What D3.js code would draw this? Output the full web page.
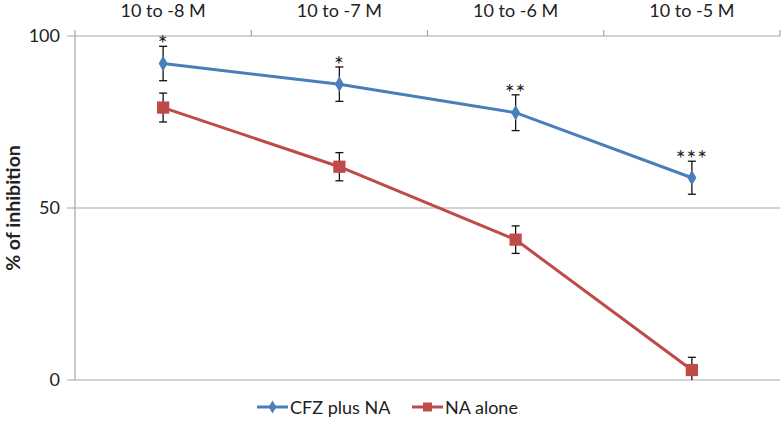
<!DOCTYPE html>
<html>
<head>
<meta charset="utf-8">
<script src="https://cdn.jsdelivr.net/npm/d3@7"></script>
<style>
  body { margin: 0; background: #fff; }
  svg { font-family: Lato, "Open Sans", sans-serif; }
</style>
</head>
<body>
<svg width="784" height="432"></svg>
<script>
// datos
const categorias = ["10 to -8 M", "10 to -7 M", "10 to -6 M", "10 to -5 M"];
const cfzValores = [92, 86, 77.7, 58.8];
const cfzError = [5, 5, 5.2, 4.8];
const naValores = [79.2, 62, 40.8, 2.9];
const naError = [4.2, 4.1, 4, 3.7];
const estrellas = ["*", "*", "**", "***"];
const ticksY = [0, 50, 100];

const series = [
  { nombre: "CFZ plus NA", valores: cfzValores, error: cfzError, color: "#4A7EBB", marca: "diamante" },
  { nombre: "NA alone", valores: naValores, error: naError, color: "#BE4B48", marca: "cuadrado" }
];

const svg = d3.select("svg");
const margen = { izq: 75, der: 780, arriba: 36, abajo: 380 };

const x = d3.scaleBand().domain(categorias).range([margen.izq, margen.der]);
const y = d3.scaleLinear().domain([0, 100]).range([margen.abajo, margen.arriba]);
const cx = d => x(d) + x.bandwidth() / 2;

// lineas de la cuadricula
svg.selectAll(".grid")
  .data(ticksY)
  .enter()
  .append("line")
  .attr("x1", margen.izq - 8)
  .attr("x2", margen.der)
  .attr("y1", d => y(d))
  .attr("y2", d => y(d))
  .attr("stroke", "#a6a6a6")
  .attr("stroke-width", 1.2);

// eje vertical
svg.append("line")
  .attr("x1", margen.izq).attr("x2", margen.izq)
  .attr("y1", y(100)).attr("y2", y(0))
  .attr("stroke", "#a6a6a6").attr("stroke-width", 1.2);

// marcas del eje superior
const bordes = categorias.map(c => x(c)).concat([margen.der]);
svg.selectAll(".tickX")
  .data(bordes)
  .enter()
  .append("line")
  .attr("x1", d => d).attr("x2", d => d)
  .attr("y1", y(100)).attr("y2", y(100) - 6)
  .attr("stroke", "#a6a6a6").attr("stroke-width", 1.2);

// etiquetas de categorias
svg.selectAll(".cat")
  .data(categorias)
  .enter()
  .append("text")
  .attr("x", d => cx(d))
  .attr("y", 17)
  .attr("text-anchor", "middle")
  .attr("font-size", 18)
  .attr("fill", "#222")
  .text(d => d);

// etiquetas del eje y
svg.selectAll(".tickY")
  .data(ticksY)
  .enter()
  .append("text")
  .attr("x", 60)
  .attr("y", d => y(d) + 6)
  .attr("text-anchor", "end")
  .attr("font-size", 18)
  .attr("fill", "#222")
  .text(d => d);

svg.append("text")
  .attr("transform", `translate(20,${(y(0) + y(100)) / 2}) rotate(-90)`)
  .attr("text-anchor", "middle")
  .attr("font-size", 19.5)
  .attr("font-weight", "bold")
  .attr("fill", "#222")
  .text("% of inhibition");

// lineas y marcas de cada serie
const linea = d3.line()
  .x((d, i) => cx(categorias[i]))
  .y(d => y(d));

const simbolo = s => s.marca === "diamante"
  ? d3.symbol().type(d3.symbolDiamond).size(70)()
  : d3.symbol().type(d3.symbolSquare).size(150)();

series.forEach(s => {
  svg.append("path")
    .attr("d", linea(s.valores))
    .attr("fill", "none")
    .attr("stroke", s.color)
    .attr("stroke-width", 3);

  // barras de error
  const g = svg.append("g");
  s.valores.forEach((v, i) => {
    const px = cx(categorias[i]);
    const alto = Math.min(100, v + s.error[i]);
    const bajo = Math.max(0, v - s.error[i]);
    g.append("line")
      .attr("x1", px).attr("x2", px)
      .attr("y1", y(alto)).attr("y2", y(bajo))
      .attr("stroke", "#111").attr("stroke-width", 1.3);
    [alto, bajo].forEach(t => {
      if (t === 0) return;
      g.append("line")
        .attr("x1", px - 4).attr("x2", px + 4)
        .attr("y1", y(t)).attr("y2", y(t))
        .attr("stroke", "#111").attr("stroke-width", 1.3);
    });
  });

  svg.selectAll(null)
    .data(s.valores)
    .enter()
    .append("path")
    .attr("transform", (d, i) => `translate(${cx(categorias[i])},${y(d)})`)
    .attr("d", simbolo(s))
    .attr("fill", s.color);
});

// asteriscos de significancia
svg.selectAll(".estrella")
  .data(estrellas)
  .enter()
  .append("text")
  .attr("x", (d, i) => cx(categorias[i]))
  .attr("y", (d, i) => y(cfzValores[i] + cfzError[i]) + 6)
  .attr("text-anchor", "middle")
  .attr("font-size", 23)
  .attr("letter-spacing", 1)
  .attr("fill", "#222")
  .text(d => d);

// leyenda
const leyenda = svg.append("g").attr("transform", "translate(0,407)");
const posLeyenda = [257, 412];
series.forEach((s, i) => {
  const lx = posLeyenda[i];
  leyenda.append("line")
    .attr("x1", lx).attr("x2", lx + 31)
    .attr("y1", 0).attr("y2", 0)
    .attr("stroke", s.color).attr("stroke-width", 3);
  leyenda.append("path")
    .attr("transform", `translate(${lx + 15.5},0)`)
    .attr("d", s.marca === "diamante"
      ? d3.symbol().type(d3.symbolDiamond).size(50)()
      : d3.symbol().type(d3.symbolSquare).size(80)())
    .attr("fill", s.color);
  leyenda.append("text")
    .attr("x", lx + 33)
    .attr("y", 6.5)
    .attr("font-size", 18)
    .attr("fill", "#222")
    .text(s.nombre);
});
</script>
</body>
</html>
